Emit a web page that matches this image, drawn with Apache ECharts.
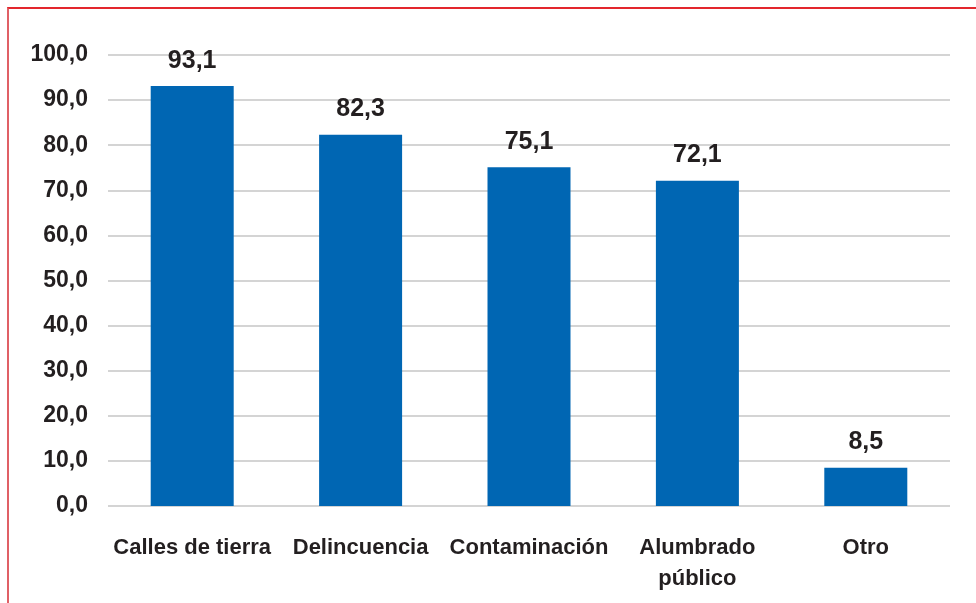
<!DOCTYPE html>
<html>
<head>
<meta charset="utf-8">
<script src="https://cdn.jsdelivr.net/npm/echarts@6/dist/echarts.min.js"></script>
<style>
  html, body { margin: 0; padding: 0; background: #fff; }
  #frame {
    position: absolute; left: 7px; top: 7px; right: 0; bottom: 0;
    border-top: 2px solid #e3262d; border-left: 2px solid #e06066;
  }
  #chart { position: absolute; left: 0; top: 0; width: 976px; height: 603px; }
</style>
</head>
<body>
<div id="frame"></div>
<div id="chart"></div>
<script>
const categories = ['Calles de tierra', 'Delincuencia', 'Contaminación', 'Alumbrado\npúblico', 'Otro']
const values = [93.1, 82.3, 75.1, 72.1, 8.5]

const fmt = v => v.toFixed(1).replace('.', ',')
const font = "'Liberation Sans', Arial, sans-serif"

var chart = echarts.init(document.getElementById('chart'))
var option = {
  animation: false,
  grid: { left: 108, right: 26, top: 55, bottom: 97, containLabel: false },
  xAxis: {
    type: 'category',
    data: categories,
    axisLine: { show: false },
    axisTick: { show: false },
    axisLabel: {
      color: '#231f20', fontFamily: font, fontWeight: 'bold', fontSize: 22,
      margin: 26, lineHeight: 31, interval: 0
    }
  },
  yAxis: {
    type: 'value',
    min: 0, max: 100, interval: 10,
    axisLine: { show: false },
    axisTick: { show: false },
    splitLine: { lineStyle: { color: '#d4d4d4', width: 2 } },
    axisLabel: {
      color: '#231f20', fontFamily: font, fontWeight: 'bold', fontSize: 23,
      margin: 20, formatter: fmt
    }
  },
  series: [{
    type: 'bar',
    data: values,
    barWidth: 83,
    itemStyle: { color: '#0066b3' },
    label: {
      show: true, position: 'top', distance: 13,
      color: '#231f20', fontFamily: font, fontWeight: 'bold', fontSize: 25,
      formatter: p => fmt(p.value)
    }
  }]
}
chart.setOption(option)
</script>
</body>
</html>
